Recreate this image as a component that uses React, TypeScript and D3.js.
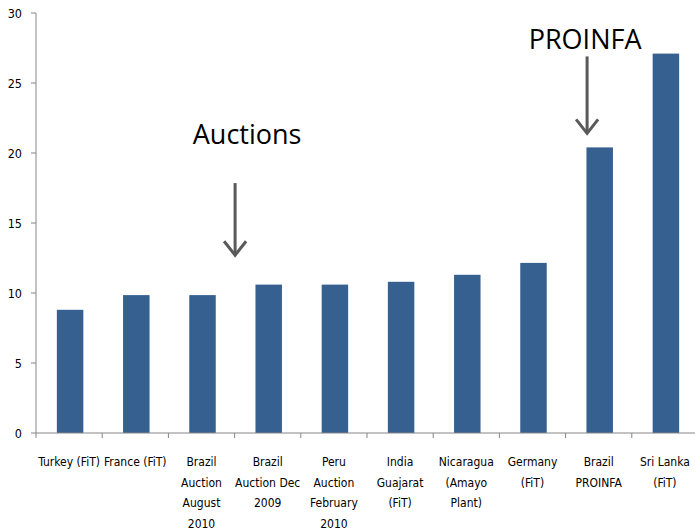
import React from "react";
import * as d3 from "d3";

const categories: string[][] = [
  ["Turkey (FiT)"],
  ["France (FiT)"],
  ["Brazil", "Auction", "August", "2010"],
  ["Brazil", "Auction Dec", "2009"],
  ["Peru", "Auction", "February", "2010"],
  ["India", "Guajarat", "(FiT)"],
  ["Nicaragua", "(Amayo", "Plant)"],
  ["Germany", "(FiT)"],
  ["Brazil", "PROINFA"],
  ["Sri Lanka", "(FiT)"],
];
const values: number[] = [8.8, 9.85, 9.85, 10.6, 10.6, 10.8, 11.3, 12.15, 20.4, 27.1];
const yTicks: number[] = [0, 5, 10, 15, 20, 25, 30];
const annotations = [
  { text: "Auctions", catIndex: 3, textY: 21.4, arrowFrom: 17.85, arrowTo: 12.7, textDx: 12.5, arrowDx: 0.5 },
  { text: "PROINFA", catIndex: 8, textY: 28.2, arrowFrom: 26.9, arrowTo: 21.4, textDx: 19.5, arrowDx: 21.5 },
];

const W = 695;
const H = 530;
const margin = { left: 36, top: 13, bottom: 97 };
const FONT = "'Liberation Sans Narrow', 'DejaVu Sans Condensed', 'Arial Narrow', sans-serif";

export default function App() {
  const x = d3
    .scaleBand<number>()
    .domain(d3.range(categories.length))
    .range([margin.left, margin.left + 66.2 * categories.length])
    .paddingInner(0.6)
    .paddingOuter(0.3);
  const step = x.step();
  const y = d3.scaleLinear().domain([0, 30]).range([H - margin.bottom, margin.top]);
  const x0 = margin.left;
  const y0 = y(0);
  const color = "#36608f";
  const axisColor = "#868686";
  const arrowColor = "#595959";

  return (
    <svg
      width={W}
      height={H}
      style={{ position: "absolute", left: 0, top: 0, display: "block" }}
    >
      <rect width={W} height={H} fill="#fff" />
      {values.map((v, i) => (
        <rect
          key={i}
          x={(x(i) as number) + 1}
          y={y(v)}
          width={x.bandwidth()}
          height={y0 - y(v)}
          fill={color}
        />
      ))}
      {/* y axis */}
      <line x1={x0} x2={x0} y1={y(30)} y2={y0} stroke={axisColor} strokeWidth={1} />
      {yTicks.map((t) => (
        <g key={t}>
          <line x1={x0 - 5} x2={x0} y1={y(t)} y2={y(t)} stroke={axisColor} />
          <text
            x={22}
            y={y(t)}
            textAnchor="end"
            dominantBaseline="central"
            fontFamily={FONT}
            fontSize={12.5}
            fill="#000"
          >
            {t}
          </text>
        </g>
      ))}
      {/* x axis */}
      <line x1={x0} x2={W} y1={y0} y2={y0} stroke={axisColor} />
      {d3.range(categories.length + 1).map((i) => (
        <line
          key={i}
          x1={x0 + i * step}
          x2={x0 + i * step}
          y1={y0}
          y2={y0 + 5}
          stroke={axisColor}
        />
      ))}
      {categories.map((lines, i) => (
        <text
          key={i}
          textAnchor="middle"
          fontFamily={FONT}
          fontSize={12}
          fill="#000"
        >
          {lines.map((l, j) => (
            <tspan
              key={j}
              x={x0 + (i + 0.5) * step}
              y={462 + j * 20.5}
              dominantBaseline="central"
            >
              {l}
            </tspan>
          ))}
        </text>
      ))}
      {/* annotations */}
      {annotations.map((a, k) => {
        const base = x0 + a.catIndex * step;
        const cx = base + a.arrowDx;
        const ya = y(a.arrowFrom);
        const yb = y(a.arrowTo);
        return (
          <g key={k}>
            <text
              x={base + a.textDx}
              y={y(a.textY)}
              textAnchor="middle"
              dominantBaseline="central"
              fontFamily="'Open Sans', 'Noto Sans', sans-serif"
              fontSize={27}
              fill="#000"
            >
              {a.text}
            </text>
            <line x1={cx} x2={cx} y1={ya} y2={yb - 1} stroke={arrowColor} strokeWidth={3} />
            <polyline
              points={`${cx - 11},${yb - 14} ${cx},${yb} ${cx + 11},${yb - 14}`}
              fill="none"
              stroke={arrowColor}
              strokeWidth={3}
            />
          </g>
        );
      })}
    </svg>
  );
}
